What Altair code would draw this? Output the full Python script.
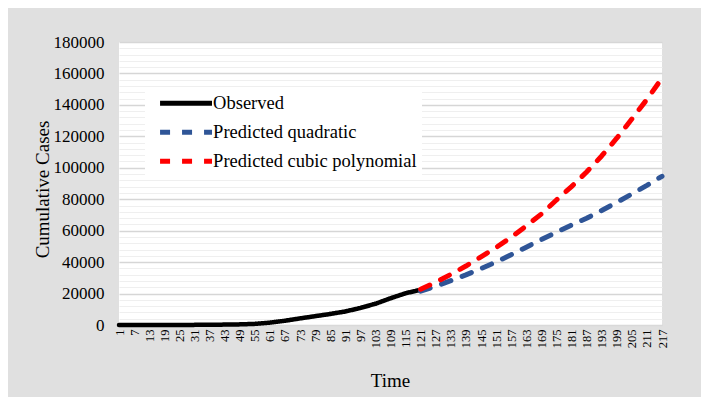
import altair as alt
import pandas as pd

# ---- data ----
obs_t = [1, 7, 13, 19, 25, 31, 37, 43, 49, 55, 61, 67, 73, 79, 85, 91, 97, 103, 109, 115, 120]
obs_v = [0, 0, 0, 20, 40, 80, 150, 250, 400, 700, 1500, 2700, 4200, 5600, 7000, 8600, 10800, 13500, 17000, 20200, 22000]

pred_t = [121, 127, 133, 139, 145, 151, 157, 163, 169, 175, 181, 187, 193, 199, 205, 211, 217]
quad_v = [21500, 24700, 28200, 31900, 35900, 40100, 44700, 49500, 54300, 59000, 63600, 67900, 72800, 78000, 83300, 88800, 94600]
cubic_v = [22800, 27200, 32200, 37500, 43300, 49300, 55800, 63000, 70600, 79500, 88000, 97300, 107500, 118800, 131000, 143500, 157000]

series = ["Observed", "Predicted quadratic", "Predicted cubic polynomial"]
colors = ["#000000", "#2F5597", "#FF0000"]
dashes = [[1, 0], [10, 12], [10, 12]]

x_ticks = list(range(1, 218, 6))
y_ticks = list(range(0, 180001, 4000))

rows = []
for t, v in zip(obs_t, obs_v):
    rows.append({"Time": t, "Cases": v, "Series": series[0]})
for t, v in zip(pred_t, quad_v):
    rows.append({"Time": t, "Cases": v, "Series": series[1]})
for t, v in zip(pred_t, cubic_v):
    rows.append({"Time": t, "Cases": v, "Series": series[2]})
df = pd.DataFrame(rows)

FONT = "Liberation Serif, Times New Roman, serif"

x_enc = alt.X(
    "Time:Q",
    scale=alt.Scale(domain=[1, 217], nice=False, zero=False),
    axis=alt.Axis(
        title="Time",
        values=x_ticks,
        labelAngle=270,
        labelFont=FONT,
        labelFontSize=12.5,
        labelColor="black",
        labelPadding=4,
        labelOverlap=False,
        ticks=False,
        grid=False,
        domainColor="#d9d9d9",
        titleFont=FONT,
        titleFontSize=19,
        titleFontWeight="normal",
        titleColor="black",
        titleY=55,
        titleX=271,
        titleBaseline="middle",
    ),
)
y_enc = alt.Y(
    "Cases:Q",
    scale=alt.Scale(domain=[0, 180000], nice=False),
    axis=alt.Axis(
        title="Cumulative Cases",
        values=y_ticks,
        format="d",
        labelExpr="datum.value % 20000 === 0 ? datum.label : ''",
        labelOverlap=False,
        labelFont=FONT,
        labelFontSize=17,
        labelColor="black",
        labelPadding=15,
        ticks=False,
        domain=False,
        gridColor={"condition": {"test": "datum.value % 20000 === 0", "value": "#d6d6d6"}, "value": "#efefef"},
        gridWidth={"condition": {"test": "datum.value % 20000 === 0", "value": 1.5}, "value": 1},
        titleFont=FONT,
        titleFontSize=19,
        titleFontWeight="normal",
        titleColor="black",
        titleX=-77,
        titleY=147,
        titleAngle=270,
        titleAlign="center",
        titleBaseline="middle",
    ),
)
color_enc = alt.Color(
    "Series:N",
    scale=alt.Scale(domain=series, range=colors),
    legend=alt.Legend(
        title=None,
        orient="none",
        legendX=26,
        legendY=47,
        fillColor="white",
        padding=5,
        rowPadding=8,
        symbolType="M0.155,0H10.155",
        symbolSize=108,
        symbolStrokeWidth=5,
        labelFont=FONT,
        labelFontSize=18.5,
        labelColor="black",
        labelOffset=44.6,
        labelLimit=400,
    ),
)
dash_enc = alt.StrokeDash("Series:N", scale=alt.Scale(domain=series, range=dashes), legend=None)

layers = []
for s in series:
    layers.append(
        alt.Chart(df)
        .transform_filter(alt.datum.Series == s)
        .mark_line(strokeWidth=5 if s != "Observed" else 4.5, strokeCap="round", strokeJoin="round")
        .encode(x=x_enc, y=y_enc, color=color_enc, strokeDash=dash_enc)
    )

chart = (
    alt.layer(*layers)
    .properties(
        width=543,
        height=283,
        background="#e0e0e0",
        padding={"left": 111, "top": 34, "right": 39, "bottom": 72},
        autosize=alt.AutoSizeParams(type="none"),
    )
    .configure_view(fill="white", stroke=None)
)

chart.save("out.html", embed_options={"renderer": "svg", "actions": False})
